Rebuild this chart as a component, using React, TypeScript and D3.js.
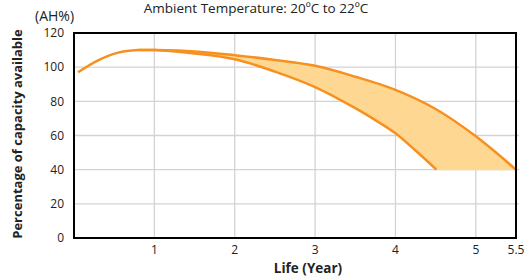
import React from 'react'
import * as d3 from 'd3'

const width = 525
const height = 280
const margin = { top: 33, right: 9, bottom: 42, left: 74 }

const xTicks = [1, 2, 3, 4, 5, 5.5]
const yTicks = [0, 20, 40, 60, 80, 100, 120]

// upper limit of the capacity band
const upperYears = [0.05, 0.3, 0.55, 0.8, 1, 1.5, 2, 2.5, 3, 3.5, 4, 4.5, 5, 5.5]
const upperValues = [97, 104, 108.5, 110, 110, 109.2, 107, 104.2, 100.8, 94.4, 86.7, 75.5, 59.5, 40]

// lower limit of the capacity band
const lowerYears = [0.8, 1, 1.5, 2, 2.5, 3, 3.5, 3.75, 4, 4.25, 4.51]
const lowerValues = [110, 110, 108, 104.6, 97.4, 88.3, 76, 69, 61.3, 51.2, 40]

const lineColor = '#f7901e'
const fillColor = '#fed892'
const font = '"Open Sans", "DejaVu Sans", sans-serif'

const App = () => {
  const x = d3.scaleLinear().domain([0, 5.5]).range([margin.left, width - margin.right])
  const y = d3.scaleLinear().domain([0, 120]).range([height - margin.bottom, margin.top])

  const upper = upperYears.map((yr, i) => [yr, upperValues[i]] as [number, number])
  const lower = lowerYears.map((yr, i) => [yr, lowerValues[i]] as [number, number])

  const line = d3.line<[number, number]>()
    .x(d => x(d[0]))
    .y(d => y(d[1]))
    .curve(d3.curveCatmullRom.alpha(0.5))

  const upperSeg = upper.filter(d => d[0] >= 0.8)
  const lowerRev = [...lower].reverse()
  const fillD = (line(upperSeg) || '') + (line(lowerRev) || '').replace(/^M/, 'L') + 'Z'

  const x0 = margin.left
  const x1 = width - margin.right
  const y0 = height - margin.bottom
  const y1 = margin.top

  return (
    <svg width={width} height={height} style={{ position: 'absolute', left: 0, top: 0 }} fontFamily={font}>
      {/* grid */}
      {xTicks.filter(t => t < 5.5).map(t => (
        <line key={'gx' + t} x1={x(t)} x2={x(t)} y1={y1} y2={y0} stroke='#d3d3d3' strokeWidth={1.3} />
      ))}
      {yTicks.filter(t => t > 0 && t < 120).map(t => (
        <line key={'gy' + t} x1={x0} x2={x1 + 3} y1={y(t)} y2={y(t)} stroke='#d3d3d3' strokeWidth={1.3} />
      ))}

      <path d={fillD} fill={fillColor} stroke='none' />
      <line x1={x(4.51)} x2={x(5.5)} y1={y(40)} y2={y(40)} stroke={fillColor} strokeWidth={1} />
      <path d={line(upper) || ''} fill='none' stroke={lineColor} strokeWidth={2.5} />
      <path d={line(lower) || ''} fill='none' stroke={lineColor} strokeWidth={2.5} />

      {/* frame */}
      <rect x={x0} y={y1} width={x1 - x0} height={y0 - y1} fill='none' stroke='#000' strokeWidth={2} />

      {/* tick labels */}
      {yTicks.map(t => (
        <text key={'ty' + t} x={64} y={y(t)} dy='0.35em' textAnchor='end' fontSize={12} fill='#222'>{t}</text>
      ))}
      {xTicks.map(t => (
        <text key={'tx' + t} x={x(t)} y={250} dy='0.35em' textAnchor='middle' fontSize={12} fill='#222'>{t}</text>
      ))}

      <text x={256} y={13} textAnchor='middle' fontSize={13.5} fill='#222'>Ambient Temperature: 20ºC to 22ºC</text>
      <text x={35} y={21} fontSize={14} fill='#222'>(AH%)</text>
      <text x={308} y={268} dy='0.35em' textAnchor='middle' fontSize={13.5} fontWeight='bold' fill='#222'>Life (Year)</text>
      <text transform={`translate(17, 134) rotate(-90)`} dy='0.35em' textAnchor='middle' fontSize={13} fontWeight='bold' fill='#222'>
        Percentage of capacity available
      </text>
    </svg>
  )
}

export default App
